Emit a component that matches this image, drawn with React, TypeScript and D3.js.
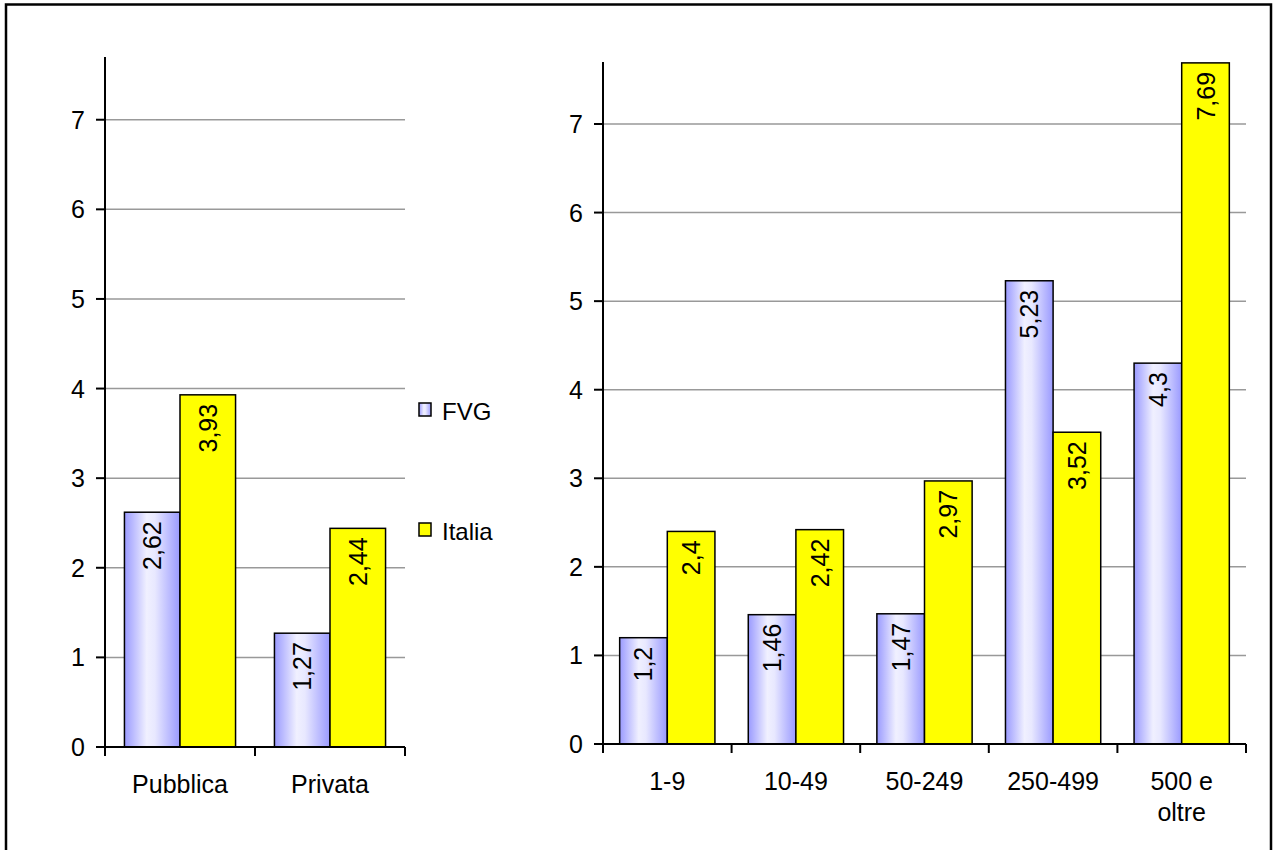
import React from "react";
import * as d3 from "d3";

const seriesNames = ["FVG", "Italia"];
const sectorCategories = ["Pubblica", "Privata"];
const sectorFVG = [2.62, 1.27];
const sectorItalia = [3.93, 2.44];
const sizeCategories = ["1-9", "10-49", "50-249", "250-499", "500 e oltre"];
const sizeLabelLines = [["1-9"], ["10-49"], ["50-249"], ["250-499"], ["500 e", "oltre"]];
const sizeFVG = [1.2, 1.46, 1.47, 5.23, 4.3];
const sizeItalia = [2.4, 2.42, 2.97, 3.52, 7.69];
const yTicks = [0, 1, 2, 3, 4, 5, 6, 7];
const yMax = 7.7;

const FONT = "Arial, 'Liberation Sans', sans-serif";
const FS = 25;
const fmt = (v: number) => String(v).replace(".", ",");

type PanelProps = {
  categories: string[];
  labelLines: string[][];
  fvg: number[];
  italia: number[];
  x0: number;
  x1: number;
  yBottom: number;
  yTop: number;
};

function Panel({ categories, labelLines, fvg, italia, x0, x1, yBottom, yTop }: PanelProps) {
  const x = d3.scaleBand<string>().domain(categories).range([x0, x1]).padding(0);
  const xs = d3.scaleBand<string>().domain(seriesNames).range([0, x.bandwidth()]).paddingInner(0).paddingOuter(0.35);
  const y = d3.scaleLinear().domain([0, yMax]).range([yBottom, yTop]);
  const boundaries = [...categories.map((c) => x(c) as number), x1];
  return (
    <g>
      {yTicks.filter((t) => t > 0).map((t) => (
        <line key={"g" + t} x1={x0} x2={x1} y1={y(t)} y2={y(t)} stroke="#999" strokeWidth={1.5} />
      ))}
      {categories.map((c, i) => {
        const vals = [fvg[i], italia[i]];
        return (
          <g key={c}>
            {seriesNames.map((s, j) => {
              const bx = (x(c) as number) + (xs(s) as number);
              const bw = xs.bandwidth();
              const top = y(vals[j]);
              return (
                <g key={s}>
                  <rect
                    x={bx}
                    y={top}
                    width={bw}
                    height={y(0) - top}
                    fill={j === 0 ? "url(#fvgGrad)" : "#ffff00"}
                    stroke="#000"
                    strokeWidth={1.5}
                  />
                  <text
                    transform={`translate(${bx + bw / 2},${top + 9}) rotate(-90)`}
                    textAnchor="end"
                    dominantBaseline="central"
                    fontSize={FS}
                    fontFamily={FONT}
                    fill="#000"
                  >
                    {fmt(vals[j])}
                  </text>
                </g>
              );
            })}
          </g>
        );
      })}
      <line x1={x0} x2={x0} y1={yTop} y2={yBottom} stroke="#000" strokeWidth={2} />
      <line x1={x0} x2={x1} y1={yBottom} y2={yBottom} stroke="#000" strokeWidth={2} />
      {yTicks.map((t) => (
        <g key={"t" + t}>
          <line x1={x0 - 9} x2={x0} y1={y(t)} y2={y(t)} stroke="#000" strokeWidth={2} />
          <text x={x0 - 20} y={y(t)} textAnchor="end" dominantBaseline="central" fontSize={FS} fontFamily={FONT}>
            {t}
          </text>
        </g>
      ))}
      {boundaries.map((b, i) => (
        <line key={"b" + i} x1={b} x2={b} y1={yBottom} y2={yBottom + 9} stroke="#000" strokeWidth={2} />
      ))}
      {categories.map((c, i) => (
        <text key={"l" + c} x={(x(c) as number) + x.bandwidth() / 2} y={yBottom + 46} textAnchor="middle" fontSize={FS} fontFamily={FONT}>
          {labelLines[i].map((ln, k) => (
            <tspan key={k} x={(x(c) as number) + x.bandwidth() / 2} dy={k === 0 ? 0 : 31}>
              {ln}
            </tspan>
          ))}
        </text>
      ))}
    </g>
  );
}

export default function App() {
  return (
    <div style={{ position: "fixed", left: 0, top: 0 }}>
      <svg width={1273} height={850} style={{ display: "block", background: "#fff" }}>
        <defs>
          <linearGradient id="fvgGrad" x1="0" x2="1" y1="0" y2="0">
            <stop offset="0%" stopColor="#9a9aff" />
            <stop offset="40%" stopColor="#f0f0ff" />
            <stop offset="55%" stopColor="#e8e8ff" />
            <stop offset="100%" stopColor="#9a9aff" />
          </linearGradient>
        </defs>
        <rect x={6} y={4.5} width={1265} height={900} fill="#fff" stroke="#000" strokeWidth={2.5} />
        <Panel
          categories={sectorCategories}
          labelLines={sectorCategories.map((c) => [c])}
          fvg={sectorFVG}
          italia={sectorItalia}
          x0={105}
          x1={405}
          yBottom={747}
          yTop={57}
        />
        <Panel
          categories={sizeCategories}
          labelLines={sizeLabelLines}
          fvg={sizeFVG}
          italia={sizeItalia}
          x0={603}
          x1={1246}
          yBottom={744}
          yTop={62}
        />
        {seriesNames.map((s, i) => (
          <g key={s}>
            <rect x={419} y={403 + i * 120} width={12} height={13} fill={i === 0 ? "url(#fvgGrad)" : "#ffff00"} stroke="#000" strokeWidth={1.5} />
            <text x={442} y={419.5 + i * 120} fontSize={24} fontFamily={FONT}>
              {s}
            </text>
          </g>
        ))}
      </svg>
    </div>
  );
}
